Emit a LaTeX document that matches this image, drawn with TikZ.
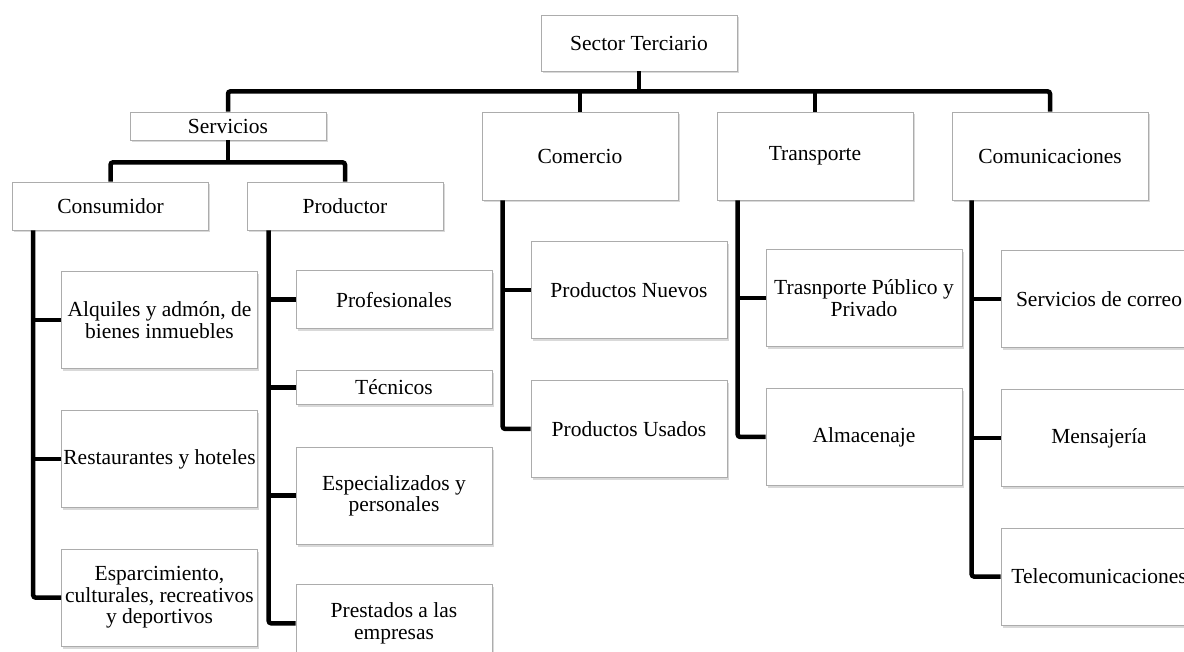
\documentclass[tikz,border=0pt]{standalone}
\usepackage{fontspec}
\setmainfont{Liberation Serif}
\usetikzlibrary{positioning, shadows}

\begin{document}
\begin{tikzpicture}[
	x=1pt, y=-1pt,
	node distance=41pt and 49pt, % Distancia vertical y horizontal
	% --- Estilos ---
	caja/.style={
		draw=gray!65,
		fill=white,
		rectangle,
		line width=0.7pt,
		minimum width=196pt,
		minimum height=97pt,
		inner sep=1pt,
		align=center,
		font=\fontsize{21.5}{21.5}\selectfont,
		drop shadow={shadow xshift=1.5pt, shadow yshift=-2.5pt, opacity=0.3}
	},
	conector/.style={
		line width=4.5pt,
		rounded corners=2.5pt
	}
	]
	% Marco de la imagen
	\useasboundingbox (0,0) rectangle (1184,652);

	% 1. Nodos principales
	\node[caja, minimum height=56pt] (sector) at (639,43) {Sector Terciario};
	\node[caja, minimum height=28pt] (servicios) at (228,126) {Servicios};
	\node[caja, minimum height=48pt] (consumidor) at (110.5,206) {Consumidor};
	\node[caja, minimum height=48pt] (productor) at (345,206) {Productor};
	\node[caja, minimum height=88pt] (comercio) at (580,156) {Comercio};
	\node[caja, minimum height=88pt] (transporte) at (815,156) {Transporte};
	\node[caja, minimum height=88pt] (comunic) at (1050,156) {Comunicaciones};

	% 2. Hijos de Consumidor
	\node[caja, below right=of consumidor.south west] (alquiles) {Alquiles y admón, de\\bienes inmuebles};
	\node[caja, below=of alquiles] (restaur) {Restaurantes y hoteles};
	\node[caja, below=of restaur] (esparc) {Esparcimiento,\\culturales, recreativos\\y deportivos};

	% 3. Hijos de Productor
	\node[caja, minimum height=58pt, below right=40pt and 49pt of productor.south west] (profes) {Profesionales};
	\node[caja, minimum height=34pt, below=of profes] (tecnicos) {Técnicos};
	\node[caja, below=42pt of tecnicos] (especial) {Especializados y\\personales};
	\node[caja, minimum height=77pt, below=40pt of especial] (prestados) {Prestados a las\\empresas};

	% 4. Hijos de Comercio, Transporte y Comunicaciones
	\node[caja, below right=of comercio.south west] (nuevos) {Productos Nuevos};
	\node[caja, below=of nuevos] (usados) {Productos Usados};
	\node[caja, below right=49pt and 49pt of transporte.south west] (publico) {Trasnporte Público y\\Privado};
	\node[caja, below=of publico] (almacen) {Almacenaje};
	\node[caja, below right=50pt and 49pt of comunic.south west] (correo) {Servicios de correo};
	\node[caja, below=of correo] (mensajeria) {Mensajería};
	\node[caja, below=of mensajeria] (telecom) {Telecomunicaciones};

	% 5. Barras horizontales
	\coordinate (barra) at ([yshift=-20pt]sector.south);
	\coordinate (barra_serv) at ([yshift=-22pt]servicios.south);
	\draw[conector] (servicios.north) |- (barra) -| (comunic.north);
	\draw[conector] (sector.south) -- (barra);
	\draw[conector] (comercio.north) -- (comercio.north |- barra);
	\draw[conector] (transporte.north) -- (transporte.north |- barra);
	\draw[conector] (consumidor.north) |- (barra_serv) -| (productor.north);
	\draw[conector] (servicios.south) -- (barra_serv);

	% 6. Troncos verticales con sus ramas
	\coordinate (t_cons) at ([xshift=21pt]consumidor.south west);
	\coordinate (t_prod) at ([xshift=22pt]productor.south west);
	\coordinate (t_come) at ([xshift=21pt]comercio.south west);
	\coordinate (t_tran) at ([xshift=21pt]transporte.south west);
	\coordinate (t_comu) at ([xshift=20pt]comunic.south west);

	\draw[conector] (t_cons) |- (esparc.west);
	\draw[conector] (t_prod) |- (prestados.west);
	\draw[conector] (t_come) |- (usados.west);
	\draw[conector] (t_tran) |- (almacen.west);
	\draw[conector] (t_comu) |- (telecom.west);

	\foreach \n/\t in {alquiles/t_cons, restaur/t_cons, profes/t_prod, tecnicos/t_prod,
		especial/t_prod, nuevos/t_come, publico/t_tran, correo/t_comu, mensajeria/t_comu}
		\draw[conector] (\n.west) -- (\n.west -| \t);

\end{tikzpicture}
\end{document}
